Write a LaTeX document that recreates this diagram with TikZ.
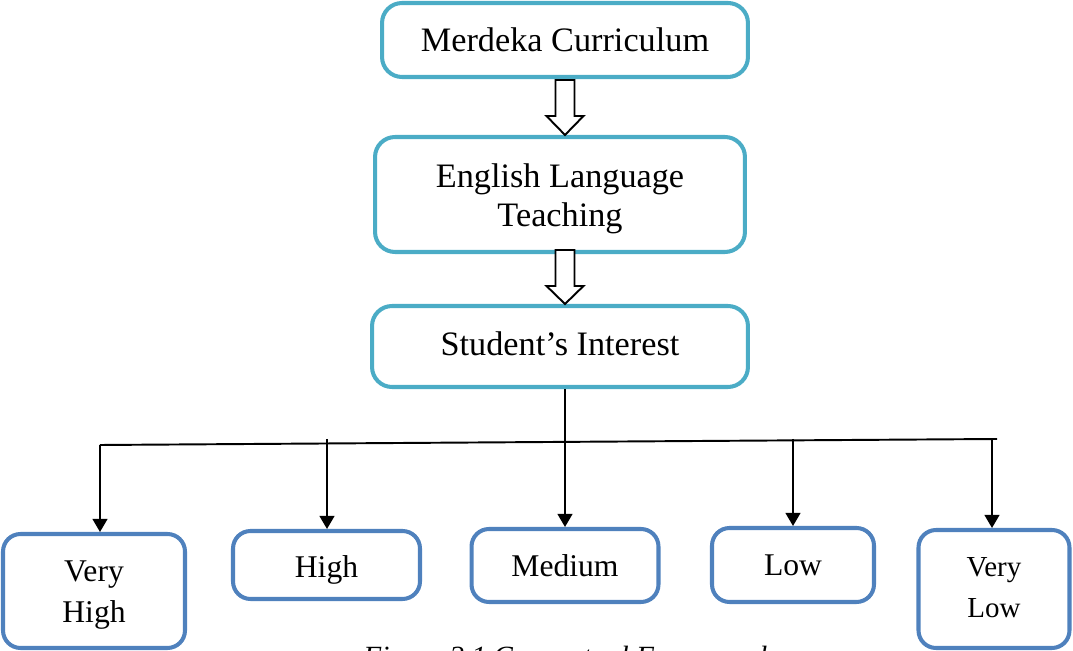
\documentclass[tikz,border=0pt]{standalone}
\usepackage{fontspec}
\setmainfont{Liberation Serif}
\usetikzlibrary{arrows.meta,calc}
\definecolor{boxteal}{HTML}{4BACC6}
\definecolor{boxblue}{HTML}{4F81BD}

\tikzset{
  topbox/.style={draw=boxteal,line width=2.3pt,rounded corners=0.4cm,align=center,
    inner sep=0pt,font=\fontsize{19.5}{22.5}\selectfont},
  levelbox/.style={draw=boxblue,line width=2.3pt,rounded corners=0.35cm,align=center,
    inner sep=0pt,font=\fontsize{18}{22.8}\selectfont},
  hollowarrow/.style={draw=black,line width=1.1pt,fill=white,line join=miter},
  droparrow/.style={-{Triangle[width=8.5pt,length=7.5pt]},line width=1.1pt},
}

\begin{document}
\begin{tikzpicture}[x=0.02cm,y=-0.02cm]

\useasboundingbox (0,0) rectangle (1073,651);
\clip (0,0) rectangle (1073,651);

% upper boxes
\node [topbox,minimum width=7.32cm,minimum height=1.48cm] (merdeka) at (565,40) {Merdeka Curriculum};
\node [topbox,minimum width=7.4cm,minimum height=2.3cm,text height=39pt,text depth=2pt] (english) at (560,194.5) {English Language\\Teaching};
\node [topbox,minimum width=7.52cm,minimum height=1.62cm,text height=13.3pt,text depth=3.6pt] (student) at (560,346.5) {Student’s Interest};

%% block arrows
\coordinate (tipA) at (merdeka.south |- english.north);
\coordinate (tipB) at (merdeka.south |- student.north);
\draw [hollowarrow] ($(tipA)+(-9.5,-55)$) -- ($(tipA)+(-9.5,-19)$) -- ($(tipA)+(-18.5,-19)$)
  -- (tipA) -- ($(tipA)+(18.5,-19)$) -- ($(tipA)+(9.5,-19)$) -- ($(tipA)+(9.5,-55)$) -- cycle;
\draw [hollowarrow] ($(tipB)+(-9.5,-54)$) -- ($(tipB)+(-9.5,-18)$) -- ($(tipB)+(-18.5,-18)$)
  -- (tipB) -- ($(tipB)+(18.5,-18)$) -- ($(tipB)+(9.5,-18)$) -- ($(tipB)+(9.5,-54)$) -- cycle;

% levels of interest
\node [levelbox,minimum width=3.64cm,minimum height=2.28cm,text height=36.3pt,text depth=1pt] (vhigh) at (94,591) {Very\\High};
\node [levelbox,minimum width=3.74cm,minimum height=1.36cm,text height=15pt,text depth=1.3pt] (high) at (326.5,565) {High};
\node [levelbox,minimum width=3.74cm,minimum height=1.46cm] (medium) at (565,565.5) {Medium};
\node [levelbox,minimum width=3.24cm,minimum height=1.48cm] (low) at (793,565) {Low};
\node [levelbox,minimum width=3.02cm,minimum height=2.36cm,font=\fontsize{16.5}{22.8}\selectfont,text height=33pt,text depth=1.1pt] (vlow) at (994,589) {Very\\Low};

%% branch lines
\coordinate (barL) at (100,445);
\coordinate (barR) at (997,439);
\coordinate (hightop) at (327,439);
\coordinate (lowtop) at (793,439);
\coordinate (vlowtop) at (992,440);
\draw [line width=1.1pt] (barL) -- (barR);
\draw [droparrow] (barL) -- (barL |- vhigh.north);
\draw [droparrow] (hightop) -- (hightop |- high.north);
\draw [droparrow] (medium.north |- student.south) -- (medium.north);
\draw [droparrow] (lowtop) -- (lowtop |- low.north);
\draw [droparrow] (vlowtop) -- (vlowtop |- vlow.north);

% caption, cut at the lower edge
\node [anchor=north west,inner sep=0pt,font=\fontsize{16.7}{20}\selectfont\itshape] (caption) at (363,646) {Figure 2.1 Conceptual Framework};

\end{tikzpicture}
\end{document}
